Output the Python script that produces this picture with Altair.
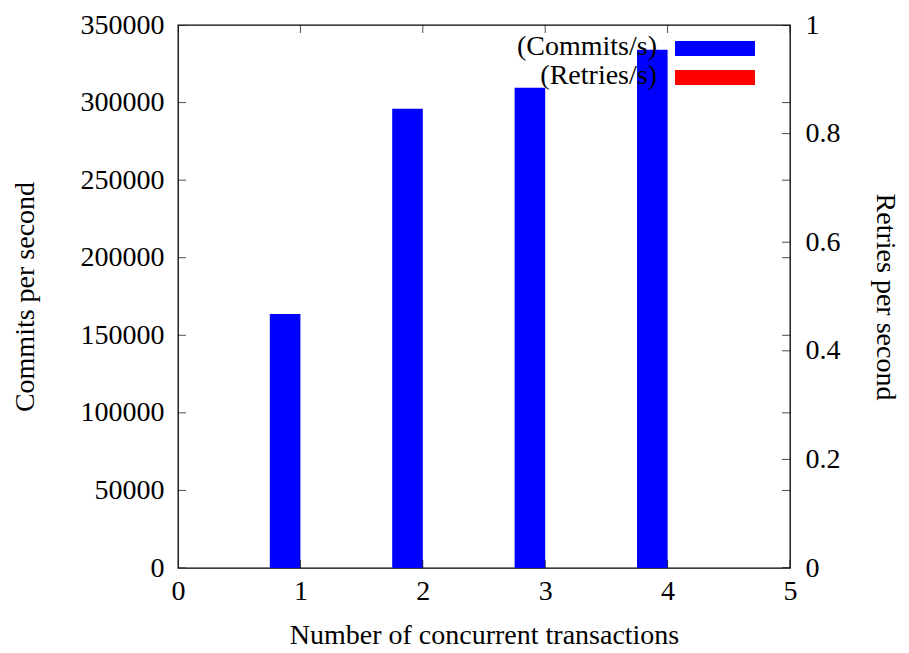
import altair as alt
import pandas as pd

# Data
transactions = [1, 2, 3, 4]
commits_per_s = [163700, 296000, 309500, 334000]
retries_per_s = [0, 0, 0, 0]

left_ticks = [0, 50000, 100000, 150000, 200000, 250000, 300000, 350000]
right_ticks = [0, 0.2, 0.4, 0.6, 0.8, 1]
x_ticks = [0, 1, 2, 3, 4, 5]

legend_labels = ["(Commits/s)", "(Retries/s)"]
legend_colors = ["#0000ff", "#ff0000"]

FONT = "Liberation Serif"
FS = 28
W, H = 612, 543

df = pd.DataFrame({"n": transactions, "commits": commits_per_s, "retries": retries_per_s})
df_left = pd.DataFrame({"v": left_ticks})
df_right = pd.DataFrame({"v": right_ticks})
df_x = pd.DataFrame({"x": x_ticks})

xscale = alt.Scale(domain=[0, 5], nice=False, zero=False)
yscale1 = alt.Scale(domain=[0, 350000], nice=False)
yscale2 = alt.Scale(domain=[0, 1], nice=False)

x_axis = alt.Axis(
    values=x_ticks, format="d", ticks=False, tickSize=0, domain=False, grid=False,
    labelFlush=False, labelPadding=9, labelFont=FONT, labelFontSize=FS, labelColor="black",
    title="Number of concurrent transactions", titleFont=FONT, titleFontSize=FS,
    titleFontWeight="normal", titleColor="black",
    titleX=W / 2, titleY=67, titleAlign="center", titleBaseline="middle",
)
y1_axis = alt.Axis(
    values=left_ticks, format="d", ticks=False, tickSize=0, domain=False, grid=False,
    labelFlush=False, labelPadding=14, labelFont=FONT, labelFontSize=FS, labelColor="black",
    title="Commits per second", titleFont=FONT, titleFontSize=FS,
    titleFontWeight="normal", titleColor="black", titleAngle=-90,
    titleX=-153, titleY=H / 2, titleAlign="center", titleBaseline="middle",
)
y2_axis = alt.Axis(
    orient="right", values=right_ticks, format="~g", ticks=False, tickSize=0, domain=False, grid=False,
    labelFlush=False, labelPadding=15, labelFont=FONT, labelFontSize=FS, labelColor="black",
    title="Retries per second", titleFont=FONT, titleFontSize=FS,
    titleFontWeight="normal", titleColor="black", titleAngle=90,
    titleX=94, titleY=H / 2, titleAlign="center", titleBaseline="middle",
)

commit_bars = alt.Chart(df).transform_calculate(
    x0="datum.n - 0.25"
).mark_rect(color="#0000ff").encode(
    x=alt.X("x0:Q", scale=xscale, axis=x_axis),
    x2=alt.X2("n:Q"),
    y=alt.Y("commits:Q", scale=yscale1, axis=y1_axis),
    y2=alt.datum(0),
)

tick_left = alt.Chart(df_left).mark_tick(
    orient="horizontal", clip=True, color="black", thickness=1, size=16
).encode(x=alt.value(0), y=alt.Y("v:Q", scale=yscale1, axis=y1_axis))

tick_right1 = alt.Chart(df_left).mark_tick(
    orient="horizontal", clip=True, color="black", thickness=1, size=16
).encode(x=alt.value(W), y=alt.Y("v:Q", scale=yscale1, axis=y1_axis))

tick_bottom = alt.Chart(df_x).mark_tick(
    orient="vertical", clip=True, color="black", thickness=1, size=16
).encode(x=alt.X("x:Q", scale=xscale, axis=x_axis), y=alt.value(H))

tick_top = alt.Chart(df_x).mark_tick(
    orient="vertical", clip=True, color="black", thickness=1, size=16
).encode(x=alt.X("x:Q", scale=xscale, axis=x_axis), y=alt.value(0))

# custom gnuplot-style key (label left of swatch)
leg_rect1 = alt.Chart(pd.DataFrame({"c": [legend_colors[0]]})).mark_rect(color=legend_colors[0]).encode(
    x=alt.value(497), x2=alt.value(577), y=alt.value(16), y2=alt.value(31))
leg_rect2 = alt.Chart(pd.DataFrame({"c": [legend_colors[1]]})).mark_rect(color=legend_colors[1]).encode(
    x=alt.value(497), x2=alt.value(577), y=alt.value(45), y2=alt.value(60))
leg_text1 = alt.Chart(pd.DataFrame({"t": [legend_labels[0]]})).mark_text(
    align="right", baseline="middle", font=FONT, fontSize=FS, color="black"
).encode(text="t:N", x=alt.value(479), y=alt.value(22))
leg_text2 = alt.Chart(pd.DataFrame({"t": [legend_labels[1]]})).mark_text(
    align="right", baseline="middle", font=FONT, fontSize=FS, color="black"
).encode(text="t:N", x=alt.value(479), y=alt.value(51))

retry_bars = alt.Chart(df).transform_calculate(
    x1="datum.n + 0.25"
).mark_rect(color="#ff0000").encode(
    x=alt.X("n:Q", scale=xscale, axis=x_axis),
    x2=alt.X2("x1:Q"),
    y=alt.Y("retries:Q", scale=yscale2, axis=y2_axis),
    y2=alt.datum(0),
)

tick_right2 = alt.Chart(df_right).mark_tick(
    orient="horizontal", clip=True, color="black", thickness=1, size=16
).encode(x=alt.value(W), y=alt.Y("v:Q", scale=yscale2, axis=y2_axis))

left_layer = alt.layer(commit_bars, tick_left, tick_right1, tick_bottom, tick_top,
                       leg_text1, leg_text2, leg_rect1, leg_rect2)
right_layer = alt.layer(retry_bars, tick_right2)

chart = alt.layer(left_layer, right_layer).resolve_scale(y="independent").properties(
    width=W, height=H,
    padding={"left": 170, "top": 17, "right": 111, "bottom": 83},
    autosize=alt.AutoSizeParams(type="none"),
    background="white",
).configure_view(stroke="black", strokeWidth=1.3)

chart.save("out.html", embed_options={"renderer": "svg", "actions": False})
